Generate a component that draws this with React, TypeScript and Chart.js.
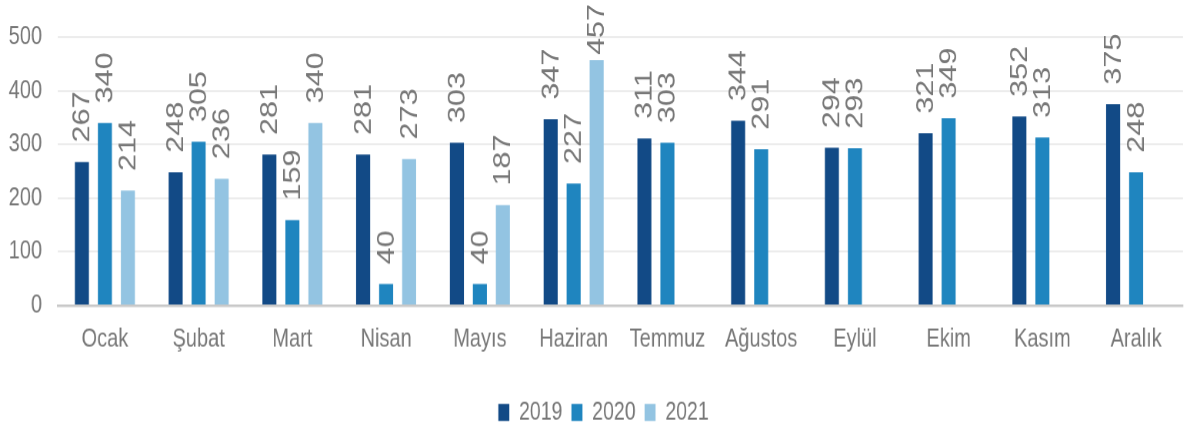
import React, { useEffect, useRef } from "react";
import { Chart, registerables } from "chart.js";

Chart.register(...registerables);

const categories = ["Ocak", "Şubat", "Mart", "Nisan", "Mayıs", "Haziran", "Temmuz", "Ağustos", "Eylül", "Ekim", "Kasım", "Aralık"];
const seriesNames = ["2019", "2020", "2021"];
const values2019 = [267, 248, 281, 281, 303, 347, 311, 344, 294, 321, 352, 375];
const values2020 = [340, 305, 159, 40, 40, 227, 303, 291, 293, 349, 313, 248];
const values2021 = [214, 236, 340, 273, 187, 457, null, null, null, null, null, null];
const yTicks = [0, 100, 200, 300, 400, 500];

const COLORS = ["#124a86", "#1f85bf", "#93c4e2"];
const TEXT_GRAY = "#777777";
const FONT = "'Liberation Sans', Arial, sans-serif";
const SY = 1.3; // vertical stretch of the whole picture
const W = 1190;
const H = 427;
const GAP = 15;
const LEGEND_SHIFT = 12;

const barLabels = {
  id: "barLabels",
  afterLayout(chart: any) {
    if (chart.legend) {
      chart.legend.left += LEGEND_SHIFT;
      chart.legend.right += LEGEND_SHIFT;
    }
  },
  afterDatasetsDraw(chart: any) {
    const ctx = chart.ctx;
    chart.data.datasets.forEach((ds: any, i: number) => {
      const meta = chart.getDatasetMeta(i);
      if (meta.hidden) return;
      meta.data.forEach((bar: any, j: number) => {
        const v = ds.data[j];
        if (v == null) return;
        const text = String(v);
        ctx.save();
        ctx.font = `23.5px ${FONT}`;
        const w = ctx.measureText(text).width;
        let bottom = bar.y - GAP;
        if (bottom - w < 3) bottom = 3 + w;
        ctx.translate(bar.x + 1, bottom);
        ctx.rotate(-Math.PI / 2);
        ctx.textAlign = "left";
        ctx.textBaseline = "middle";
        ctx.fillStyle = TEXT_GRAY;
        ctx.fillText(text, 0, 0);
        ctx.restore();
      });
    });
  },
};

export default function App() {
  const ref = useRef<HTMLCanvasElement | null>(null);
  useEffect(() => {
    if (!ref.current) return;
    const data = [values2019, values2020, values2021];
    const chart = new Chart(ref.current, {
      type: "bar",
      data: {
        labels: categories,
        datasets: seriesNames.map((name, i) => ({
          label: name,
          data: data[i] as any,
          backgroundColor: COLORS[i],
          borderWidth: 0,
          categoryPercentage: 0.736,
          barPercentage: 0.61,
        })),
      },
      options: {
        animation: false,
        responsive: true,
        maintainAspectRatio: false,
        devicePixelRatio: SY,
        layout: { padding: { top: 28.5, right: 7, left: 0, bottom: -8 } },
        plugins: {
          tooltip: { enabled: false },
          legend: {
            position: "bottom",
            labels: {
              boxWidth: 11,
              boxHeight: 13,
              padding: 9,
              color: TEXT_GRAY,
              font: { family: FONT, size: 19.5 },
            },
          },
        },
        scales: {
          x: {
            grid: { display: false, drawTicks: false },
            border: { display: true, color: "#c8c8c8", width: 2 },
            ticks: { color: TEXT_GRAY, font: { family: FONT, size: 20 }, padding: 14, maxRotation: 0, autoSkip: false },
            afterFit: (s: any) => { s.height = 63.5; },
          },
          y: {
            min: 0,
            max: 500,
            afterBuildTicks: (s: any) => { s.ticks = yTicks.map((v) => ({ value: v })); },
            grid: { color: "#ececec", lineWidth: 1.5, drawTicks: false },
            border: { display: false },
            ticks: { color: TEXT_GRAY, font: { family: FONT, size: 20 }, padding: 16 },
            afterFit: (s: any) => { s.width = 58; },
          },
        },
      },
      plugins: [barLabels],
    });
    return () => chart.destroy();
  }, []);
  return (
    <div style={{ position: "absolute", left: 0, top: 0, width: W, height: H, overflow: "hidden", background: "#fff" }}>
      <div style={{ width: W, height: H / SY, transform: `scaleY(${SY})`, transformOrigin: "0 0" }}>
        <canvas ref={ref} />
      </div>
    </div>
  );
}
